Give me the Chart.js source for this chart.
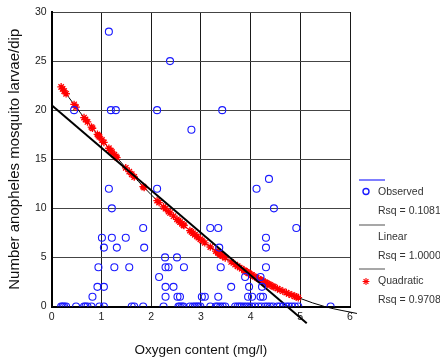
<!DOCTYPE html>
<html>
<head>
<meta charset="utf-8">
<script src="https://cdn.jsdelivr.net/npm/chart.js@4/dist/chart.umd.min.js"></script>
<style>
  html, body { margin: 0; padding: 0; background: #fff; }
  #wrap { width: 440px; height: 360px; }
</style>
</head>
<body>
<div id="wrap"><canvas id="larvaeChart" width="440" height="360"></canvas></div>
<script>
// Observed larvae counts per dip vs oxygen content (mg/l)
const observed = [
  [0.19,0],[0.22,0],[0.25,0],[0.29,0],[0.49,0],[0.65,0],[0.68,0],[0.72,0],[0.80,0],[0.96,0],
  [1.05,0],[1.61,0],[1.66,0],[1.84,0],[2.25,0],[2.55,0],[2.58,0],[2.62,0],[2.65,0],[2.78,0],
  [2.84,0],[2.88,0],[2.92,0],[2.95,0],[2.99,0],[3.19,0],[3.30,0],[3.34,0],[3.39,0],[3.44,0],
  [3.49,0],[3.69,0],[3.74,0],[3.78,0],[3.82,0],[3.87,0],[3.92,0],[3.97,0],[4.02,0],[4.09,0],
  [4.16,0],[4.22,0],[4.29,0],[4.34,0],[4.39,0],[4.45,0],[4.54,0],[4.59,0],[4.65,0],[4.72,0],
  [4.77,0],[4.83,0],[4.89,0],[4.96,0],[5.61,0],
  [0.82,1],[2.29,1],[2.53,1],[2.58,1],[3.02,1],[3.08,1],[3.35,1],[3.95,1],[4.03,1],[4.20,1],[4.25,1],
  [0.92,2],[1.05,2],[2.29,2],[2.45,2],[3.61,2],[3.97,2],[4.23,2],
  [2.16,3],[3.89,3],[4.20,3],
  [0.94,4],[1.26,4],[1.56,4],[2.29,4],[2.35,4],[2.66,4],[3.40,4],[4.31,4],
  [2.28,5],[2.52,5],
  [1.05,6],[1.31,6],[1.86,6],[3.37,6],[4.31,6],
  [1.01,7],[1.21,7],[1.49,7],[4.31,7],
  [1.84,8],[3.19,8],[3.35,8],[4.92,8],
  [1.21,10],[4.47,10],
  [1.15,12],[2.12,12],[4.12,12],
  [4.37,13],
  [2.81,18],
  [0.45,20],[1.19,20],[1.29,20],[2.12,20],[3.43,20],
  [2.38,25],
  [1.15,28]
];

// quadratic fitted values (red stars)
const quadFitted = [
  [0.19,22.37],[0.22,22.16],[0.25,21.95],[0.29,21.67],[0.45,20.58],[0.49,20.31],[0.65,19.25],
  [0.68,19.05],[0.72,18.80],[0.80,18.28],[0.82,18.16],[0.92,17.53],[0.94,17.40],[0.96,17.28],
  [1.01,16.97],[1.05,16.72],[1.15,16.12],[1.19,15.88],[1.21,15.76],[1.26,15.46],[1.29,15.29],
  [1.31,15.17],[1.49,14.13],[1.56,13.74],[1.61,13.47],[1.66,13.19],[1.84,12.22],[1.86,12.12],
  [2.12,10.79],[2.16,10.59],[2.25,10.15],[2.29,9.96],[2.35,9.67],[2.38,9.53],[2.45,9.20],
  [2.52,8.88],[2.55,8.74],[2.58,8.61],[2.62,8.43],[2.65,8.30],[2.66,8.25],[2.78,7.73],
  [2.81,7.60],[2.84,7.47],[2.88,7.31],[2.92,7.14],[2.95,7.02],[2.99,6.85],[3.02,6.73],
  [3.08,6.49],[3.19,6.06],[3.30,5.64],[3.34,5.50],[3.35,5.46],[3.37,5.39],[3.39,5.31],
  [3.40,5.28],[3.43,5.17],[3.44,5.13],[3.49,4.95],[3.61,4.54],[3.69,4.27],[3.74,4.10],
  [3.78,3.97],[3.82,3.85],[3.87,3.69],[3.89,3.62],[3.92,3.53],[3.95,3.44],[3.97,3.38],
  [4.02,3.23],[4.03,3.20],[4.09,3.02],[4.12,2.94],[4.16,2.82],[4.20,2.71],[4.22,2.66],
  [4.25,2.57],[4.29,2.46],[4.31,2.41],[4.34,2.33],[4.37,2.25],[4.39,2.20],[4.45,2.05],
  [4.47,2.00],[4.54,1.82],[4.59,1.70],[4.65,1.56],[4.72,1.41],[4.77,1.29],[4.83,1.17],
  [4.89,1.04],[4.92,0.98],[4.96,0.90]
];

// fit lines
const linearLine = [[0,20.5],[5.13,-1.7]];
const quadCurve = [
  [0.19,22.37],[0.5,20.24],[1,17.03],[1.5,14.08],[2,11.39],[2.5,8.97],[3,6.81],
  [3.5,4.92],[4,3.29],[4.5,1.92],[5,0.82],[5.5,-0.02],[6.14,-0.71]
];

const xTicks = [0, 1, 2, 3, 4, 5, 6];
const yTicks = [0, 5, 10, 15, 20, 25, 30];
const legendNames = ['Observed', 'Linear', 'Quadratic'];
const rsqValues = ['0.1081', '1.0000', '0.9708'];

const toPts = arr => arr.map(p => ({ x: p[0], y: p[1] }));
const FONT = '"Liberation Sans", Arial, sans-serif';

// side legend, SPSS style
const sideLegend = {
  id: 'sideLegend',
  afterDraw(chart) {
    const c = chart.ctx;
    c.save();
    c.font = '10.5px ' + FONT;
    c.fillStyle = '#333';
    c.textBaseline = 'middle';
    const lineCols = ['#3a3aff', '#777', '#777'];
    const lineY = [180, 225, 269];
    legendNames.forEach((name, i) => {
      const y0 = lineY[i];
      c.strokeStyle = lineCols[i];
      c.lineWidth = 1.3;
      c.beginPath(); c.moveTo(359, y0); c.lineTo(385, y0); c.stroke();
      c.fillText(name, 378, y0 + 12.5);
      c.fillText('Rsq = ' + rsqValues[i], 378, y0 + 31);
    });
    // symbols
    c.strokeStyle = '#1a1aff';
    c.lineWidth = 1.4;
    c.beginPath(); c.arc(366, 191.5, 3, 0, Math.PI * 2); c.stroke();
    c.strokeStyle = '#ff0000';
    c.lineWidth = 1.1;
    const sx = 366, sy = 281.5, r = 3.4;
    for (let k = 0; k < 4; k++) {
      const a = k * Math.PI / 4;
      c.beginPath();
      c.moveTo(sx - r * Math.cos(a), sy - r * Math.sin(a));
      c.lineTo(sx + r * Math.cos(a), sy + r * Math.sin(a));
      c.stroke();
    }
    c.restore();
  }
};

const ctx = document.getElementById('larvaeChart').getContext('2d');
new Chart(ctx, {
  type: 'scatter',
  data: {
    datasets: [
      {
        label: 'Observed',
        data: toPts(observed),
        pointStyle: 'circle',
        pointRadius: 3.5,
        borderColor: '#1a1aff',
        backgroundColor: 'rgba(0,0,0,0)',
        borderWidth: 1.1,
        order: 0
      },
      {
        label: 'Linear',
        data: toPts(linearLine),
        showLine: true,
        borderColor: '#000',
        borderWidth: 2,
        pointRadius: 0,
        clip: false,
        order: 1
      },
      {
        label: 'Quadratic curve',
        data: toPts(quadCurve),
        showLine: true,
        borderColor: '#000',
        borderWidth: 1,
        pointRadius: 0,
        cubicInterpolationMode: 'monotone',
        clip: false,
        order: 3
      },
      {
        label: 'Quadratic',
        data: toPts(quadFitted),
        pointStyle: 'star',
        pointRadius: 3.8,
        borderColor: '#ff0000',
        backgroundColor: '#ff0000',
        borderWidth: 1.3,
        order: 2
      }
    ]
  },
  options: {
    responsive: false,
    animation: false,
    layout: { padding: { top: 12, right: 90, left: 0, bottom: 0 } },
    plugins: {
      legend: { display: false },
      tooltip: { enabled: false }
    },
    scales: {
      x: {
        type: 'linear',
        min: xTicks[0],
        max: xTicks[xTicks.length - 1],
        afterBuildTicks: s => { s.ticks = xTicks.map(v => ({ value: v })); },
        afterFit: s => { s.height = 53.5; },
        ticks: { color: '#222', padding: 4, font: { family: FONT, size: 10.5 } },
        grid: { color: '#1a1a1a', lineWidth: 1, drawTicks: false },
        border: { display: true, color: '#000', width: 2 },
        title: {
          display: true,
          text: 'Oxygen content (mg/l)',
          color: '#111',
          font: { family: FONT, size: 13.5 },
          padding: { top: 0, bottom: 2 }
        }
      },
      y: {
        type: 'linear',
        min: yTicks[0],
        max: yTicks[yTicks.length - 1],
        afterBuildTicks: s => { s.ticks = yTicks.map(v => ({ value: v })); },
        afterFit: s => { s.width = 51.7; },
        ticks: { color: '#222', padding: 5, font: { family: FONT, size: 10.5 } },
        grid: { color: '#444', lineWidth: 1, drawTicks: false },
        border: { display: true, color: '#000', width: 2 },
        title: {
          display: true,
          text: 'Number anopheles mosquito larvae/dip',
          color: '#111',
          font: { family: FONT, size: 15 },
          padding: { top: 6, bottom: 0 }
        }
      }
    }
  },
  plugins: [sideLegend]
});
</script>
</body>
</html>
